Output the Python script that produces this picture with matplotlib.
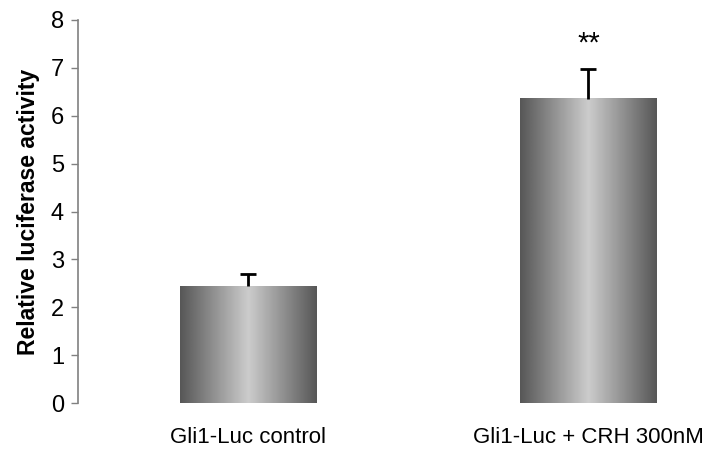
import numpy as np
import matplotlib
matplotlib.use("Agg")
import matplotlib.pyplot as plt

# data
groups = ["Gli1-Luc control", "Gli1-Luc + CRH 300nM"]
activity = [2.44, 6.35]
err_up = [0.25, 0.62]
signif = ["", "**"]

plt.rcParams['font.family'] = ['Liberation Sans', 'DejaVu Sans']

fig = plt.figure(figsize=(7.07, 4.5), dpi=100)
ax = fig.add_axes([0.110, 0.1044, 0.890, 0.8512])

x = np.arange(len(groups))
width = 0.4

# bars: outline only, gradient painted inside
bars = ax.bar(x, activity, width=width, color='none', edgecolor='none', zorder=2)

# horizontal gradient, dark at edges, light in the middle
prof = 1 - np.abs(np.linspace(-1, 1, 256))
dark, light = 0.34, 0.80
grad = (dark + (light - dark) * prof)[None, :]
for b in bars:
    x0, y0 = b.get_x(), b.get_y()
    ax.imshow(grad, cmap='gray', vmin=0, vmax=1, aspect='auto',
              extent=[x0, x0 + b.get_width(), y0, y0 + b.get_height()],
              interpolation='bilinear', zorder=2)

# upper error bars only, cap on top
eb = ax.errorbar(x, activity, yerr=[np.zeros(len(x)), err_up], fmt='none',
                 ecolor='black', elinewidth=2, capsize=5.8, capthick=2, zorder=3)
eb[1][0].set_visible(False)

for xi, s in zip(x, signif):
    if s:
        ax.text(xi, 7.5, s, ha='center', va='center', fontsize=21)

ax.set_xlim(-0.5, 1.3485)
ax.set_ylim(0, 8)
ax.set_yticks(range(0, 9))
ax.set_xticks(x)
ax.set_xticklabels(groups, fontsize=16)
ax.tick_params(axis='x', length=0, pad=17)
ax.tick_params(axis='y', length=5, width=1, color='#808080', labelsize=17, pad=5)
ax.set_ylabel("Relative luciferase activity", fontsize=16.5, fontweight='bold', labelpad=8)

for side in ['top', 'right', 'bottom']:
    ax.spines[side].set_visible(False)
ax.spines['left'].set_color('#808080')
ax.spines['left'].set_linewidth(1.2)

fig.savefig("out.png", dpi=100)
